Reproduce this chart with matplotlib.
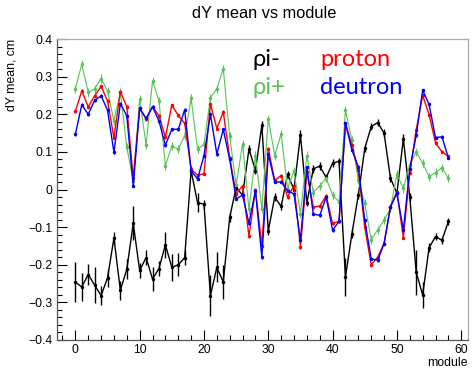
import matplotlib
matplotlib.use("Agg")
import matplotlib.pyplot as plt
from matplotlib.ticker import MultipleLocator, FuncFormatter
import numpy as np

modules = list(range(59))

pi_minus = [-0.246, -0.259, -0.226, -0.254, -0.282, -0.235, -0.129, -0.268, -0.212, -0.09,
            -0.215, -0.181, -0.238, -0.21, -0.147, -0.207, -0.2, -0.181, 0.05, -0.035,
            -0.039, -0.282, -0.207, -0.246, -0.074, 0.005, -0.015, 0.108, 0.05, 0.171,
            -0.11, -0.02, -0.045, 0.04, 0.0, 0.145, -0.035, 0.055, 0.062, 0.032,
            0.07, 0.075, -0.233, -0.118, -0.015, 0.109, 0.167, 0.178, 0.15, 0.03,
            -0.01, 0.135, -0.02, -0.22, -0.28, -0.155, -0.125, -0.135, -0.085]
pi_minus_err = [0.053, 0.038, 0.027, 0.047, 0.025, 0.025, 0.015, 0.026, 0.027, 0.045,
                0.02, 0.02, 0.033, 0.02, 0.035, 0.036, 0.03, 0.02, 0.012, 0.025,
                0.012, 0.055, 0.04, 0.045, 0.012, 0.01, 0.01, 0.01, 0.01, 0.012,
                0.01, 0.01, 0.01, 0.01, 0.01, 0.012, 0.01, 0.01, 0.01, 0.01,
                0.01, 0.01, 0.05, 0.012, 0.01, 0.01, 0.01, 0.01, 0.01, 0.01,
                0.01, 0.012, 0.01, 0.06, 0.035, 0.012, 0.01, 0.01, 0.01]

pi_plus = [0.267, 0.333, 0.258, 0.268, 0.295, 0.262, 0.183, 0.258, 0.112, 0.023,
           0.24, 0.118, 0.289, 0.236, 0.063, 0.116, 0.107, 0.143, 0.242, 0.107,
           0.12, 0.244, 0.268, 0.321, 0.142, 0.012, 0.121, -0.053, 0.09, -0.052,
           0.188, 0.09, 0.148, 0.002, 0.05, -0.065, 0.09, -0.008, 0.01, 0.03,
           -0.015, -0.033, 0.21, 0.131, 0.025, -0.037, -0.133, -0.108, -0.082, -0.05,
           0.04, 0.003, 0.066, 0.1, 0.07, 0.034, 0.045, 0.058, 0.03]
pi_plus_err = [0.011] * 59

proton = [0.208, 0.262, 0.22, 0.249, 0.274, 0.236, 0.137, 0.26, 0.22, 0.03,
          0.216, 0.187, 0.22, 0.196, 0.139, 0.224, 0.197, 0.176, 0.054, 0.038,
          0.042, 0.227, 0.162, 0.206, 0.085, -0.012, 0.01, -0.124, 0.0, -0.15,
          0.108, 0.024, 0.037, -0.02, 0.01, -0.153, 0.046, -0.047, -0.044, -0.017,
          -0.09, -0.085, 0.176, 0.118, 0.051, -0.1, -0.2, -0.18, -0.144, -0.046,
          -0.006, -0.128, 0.045, 0.158, 0.25, 0.199, 0.124, 0.1, 0.088]
proton_err = [0.004] * 59

deutron = [0.147, 0.225, 0.2, 0.237, 0.249, 0.211, 0.099, 0.228, 0.196, 0.01,
           0.216, 0.189, 0.22, 0.182, 0.118, 0.16, 0.16, 0.212, 0.05, 0.028,
           0.09, 0.2, 0.094, 0.16, 0.08, -0.025, -0.015, -0.09, -0.003, -0.18,
           0.095, 0.02, 0.02, -0.003, -0.012, -0.135, 0.059, -0.065, -0.069, -0.02,
           -0.108, -0.085, 0.176, 0.105, 0.06, -0.082, -0.184, -0.188, -0.144, -0.046,
           -0.01, -0.108, 0.055, 0.144, 0.264, 0.226, 0.138, 0.14, 0.084]
deutron_err = [0.004] * 59

title = "dY mean vs module"
xlabel = "module"
ylabel = "dY mean, cm"

W, H = 473, 369
fig = plt.figure(figsize=(W / 100, H / 100), dpi=100)
fig.patch.set_facecolor("white")
L, R, T, B = 56.7, 468.3, 39, 340
ax = fig.add_axes([L / W, 1 - B / H, (R - L) / W, (B - T) / H])

green = "#55c455"
series = [
    (pi_minus, pi_minus_err, "black", 1.0),
    (pi_plus, pi_plus_err, green, 0.8),
    (proton, proton_err, "#ff0000", 1.0),
    (deutron, deutron_err, "#0000ff", 1.0),
]
for vals, errs, col, lw in series:
    ax.errorbar(modules, vals, yerr=errs, color=col, lw=lw, elinewidth=lw,
                marker="o", ms=1.5, mec=col, mfc=col, capsize=0)

ax.set_xlim(-2.9, 61.1)
ax.set_ylim(-0.4, 0.4)

ax.xaxis.set_major_locator(MultipleLocator(10))
ax.xaxis.set_minor_locator(MultipleLocator(2))
ax.yaxis.set_major_locator(MultipleLocator(0.1))
ax.yaxis.set_minor_locator(MultipleLocator(0.02))

def yfmt(v, pos):
    if abs(v) < 1e-9:
        return "0"
    return ("%.1f" % v).replace("-", "\u2212")
ax.yaxis.set_major_formatter(FuncFormatter(yfmt))
ax.xaxis.set_major_formatter(FuncFormatter(lambda v, p: "%d" % round(v)))

tickfont = "Liberation Sans"
ax.tick_params(which="both", direction="in", top=False, right=False,
               labelsize=8.8, colors="black", width=0.8)
ax.tick_params(which="major", length=7.2)
ax.tick_params(which="minor", length=3.6)
ax.tick_params(axis="y", pad=3)
ax.tick_params(axis="x", pad=3)
for lab in ax.get_xticklabels() + ax.get_yticklabels():
    lab.set_fontfamily(tickfont)

for s in ["left", "bottom"]:
    ax.spines[s].set_color("#555555")
    ax.spines[s].set_linewidth(0.9)
for s in ["top", "right"]:
    ax.spines[s].set_color("#aaaaaa")
    ax.spines[s].set_linewidth(0.9)

fig.text(264 / W, 1 - 14 / H, title, ha="center", va="center",
         fontsize=11.8, family=tickfont)
fig.text(468 / W, 1 - 357 / H, xlabel, ha="right", va="top",
         fontsize=8.8, family=tickfont)
fig.text(11 / W, 1 - 39 / H, ylabel, ha="center", va="top", rotation=90,
         fontsize=8.8, family=tickfont)

lfont = "Lato"
lsize = 17
def axfrac(px, py):
    return ((px - L) / (R - L), (B - py) / (B - T))
for txt, col, px, py in [("\u03c1i-", "black", 252, 60),
                         ("proton", "#ff0000", 320, 60),
                         ("\u03c1i+", green, 252, 88),
                         ("deutron", "#0000ff", 320, 88)]:
    x, y = axfrac(px, py)
    ax.text(x, y, txt, color=col, transform=ax.transAxes, ha="left",
            va="center", fontsize=lsize, family=lfont)

fig.savefig("out.png", dpi=100, facecolor="white")
